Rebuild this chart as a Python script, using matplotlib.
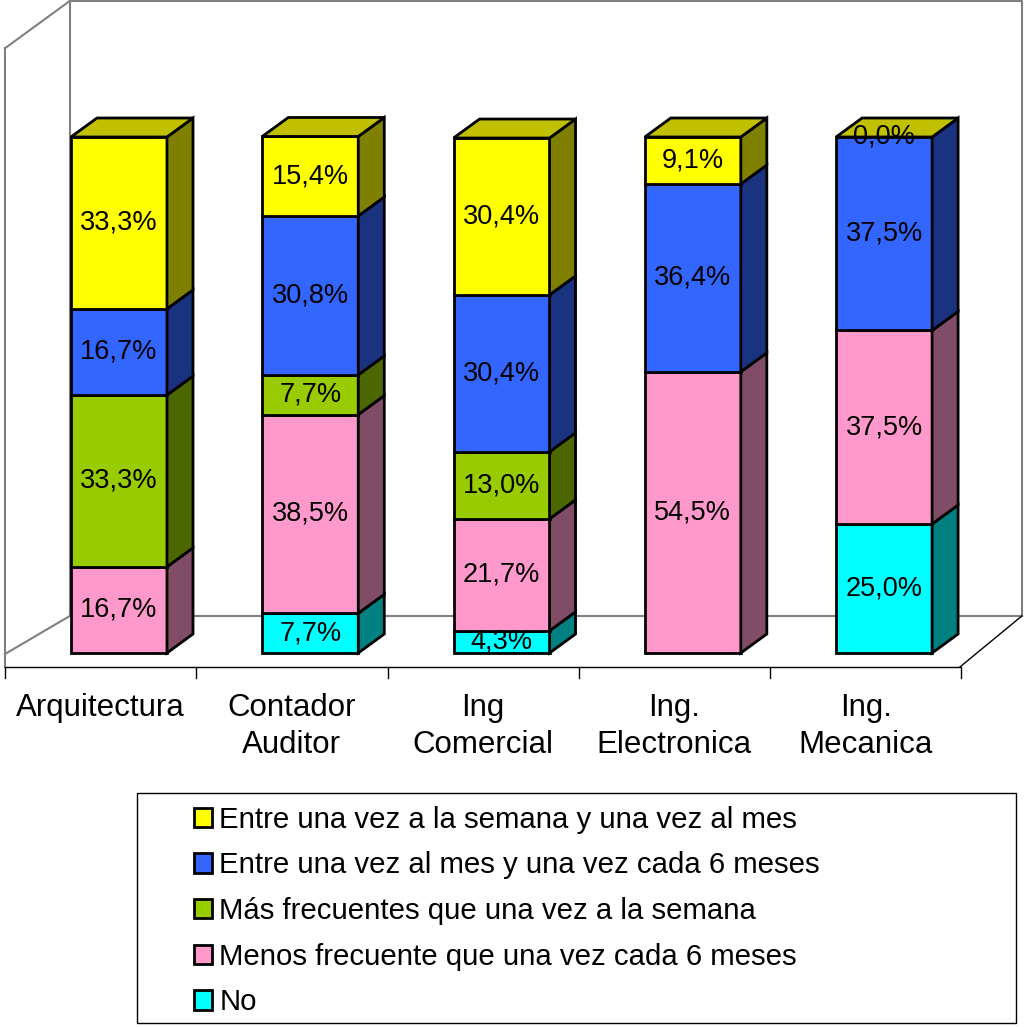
import numpy as np
import matplotlib.pyplot as plt
from matplotlib.patches import Polygon, Patch, Rectangle

plt.rcParams['font.family'] = ['Liberation Sans', 'DejaVu Sans']

carreras = ['Arquitectura', 'Contador\nAuditor', 'Ing\nComercial', 'Ing.\nElectronica', 'Ing.\nMecanica']

# series de abajo hacia arriba (nan = sin respuesta en esa carrera)
no = [np.nan, 7.7, 4.3, np.nan, 25.0]
menos_6m = [16.7, 38.5, 21.7, 54.5, 37.5]
mas_semana = [33.3, 7.7, 13.0, np.nan, np.nan]
mes_6m = [16.7, 30.8, 30.4, 36.4, 37.5]
semana_mes = [33.3, 15.4, 30.4, 9.1, 0.0]

series = [no, menos_6m, mas_semana, mes_6m, semana_mes]
nombres = ['No',
           'Menos frecuente que una vez cada 6 meses',
           'Más frecuentes que una vez a la semana',
           'Entre una vez al mes y una vez cada 6 meses',
           'Entre una vez a la semana y una vez al mes']
frente = ['#00FFFF', '#FF99CC', '#99CC00', '#3366FF', '#FFFF00']
lado = ['#008080', '#804C66', '#4C6600', '#1A3380', '#808000']
techo = ['#00C0C0', '#C07399', '#739900', '#264CC0', '#C0C000']

fig = plt.figure(figsize=(10.26, 10.27), dpi=100)
ax = fig.add_axes([0, 0, 1, 1])
ax.set_xlim(-0.622, 4.742)
ax.set_ylim(-72.48, 126.55)
ax.axis('off')

# paredes y piso en perspectiva (detrás de las barras)
gris = '#808080'
pared = dict(color=gris, lw=1.5, zorder=0.5)
ax.plot([-0.256, 4.721, 4.721], [126.4, 126.4, 7.2], **pared)
ax.plot([-0.256, -0.256], [126.4, 7.2], **pared)
ax.plot([-0.256, 4.721], [7.2, 7.2], **pared)
ax.plot([-0.596, -0.256], [117.2, 126.4], **pared)
ax.plot([-0.596, -0.596], [117.2, -2.7], **pared)
ax.plot([-0.596, -0.256], [-0.2, 7.2], **pared)
ax.plot([-0.596, 4.397], [-2.7, -2.7], color='black', lw=1, zorder=0.5)
ax.plot([4.397, 4.721], [-2.7, 7.2], color='black', lw=1, zorder=0.5)
for k in range(6):
    ax.plot([-0.596 + k, -0.596 + k], [-2.7, -4.9], color='black', lw=1)

ancho = 0.502
px, py = 0.136, 3.68
borde = dict(edgecolor='black', linewidth=2, joinstyle='miter', zorder=2)

for i in range(len(carreras)):
    xl, xr = i - ancho / 2, i + ancho / 2
    base = 0.0
    tope = None
    for s, vals in enumerate(series):
        v = vals[i]
        if np.isnan(v):
            continue
        y0, y1 = base, base + v
        if v > 0:
            ax.add_patch(Polygon([(xl, y0), (xr, y0), (xr, y1), (xl, y1)],
                                 facecolor=frente[s], **borde))
            ax.add_patch(Polygon([(xr, y0), (xr + px, y0 + py), (xr + px, y1 + py), (xr, y1)],
                                 facecolor=lado[s], **borde))
        tope = s
        ax.text(i, (y0 + y1) / 2, f'{v:.1f}%'.replace('.', ','),
                ha='center', va='center', fontsize=19.5, zorder=3)
        base = y1
    ax.add_patch(Polygon([(xl, base), (xr, base), (xr + px, base + py), (xl + px, base + py)],
                         facecolor=techo[tope], **borde))
    ax.text(i - 0.096, -7.8, carreras[i], ha='center', va='top', fontsize=22.5,
            linespacing=1.3)

# leyenda
fig.patches.append(Rectangle((137 / 1026, 1 - 1023 / 1027), 879 / 1026, 230 / 1027,
                             transform=fig.transFigure, facecolor='none',
                             edgecolor='black', linewidth=1))
handles = [Patch(facecolor=frente[s], edgecolor='black', linewidth=2) for s in range(4, -1, -1)]
labels = [nombres[s] for s in range(4, -1, -1)]
fig.legend(handles, labels, loc='upper left', bbox_to_anchor=(179 / 1026, 1 - 791 / 1027),
           frameon=False, fontsize=21.2, handlelength=0.62, handleheight=0.62,
           handletextpad=0.25, labelspacing=0.6, borderpad=0)

fig.savefig('out.png', dpi=100)
